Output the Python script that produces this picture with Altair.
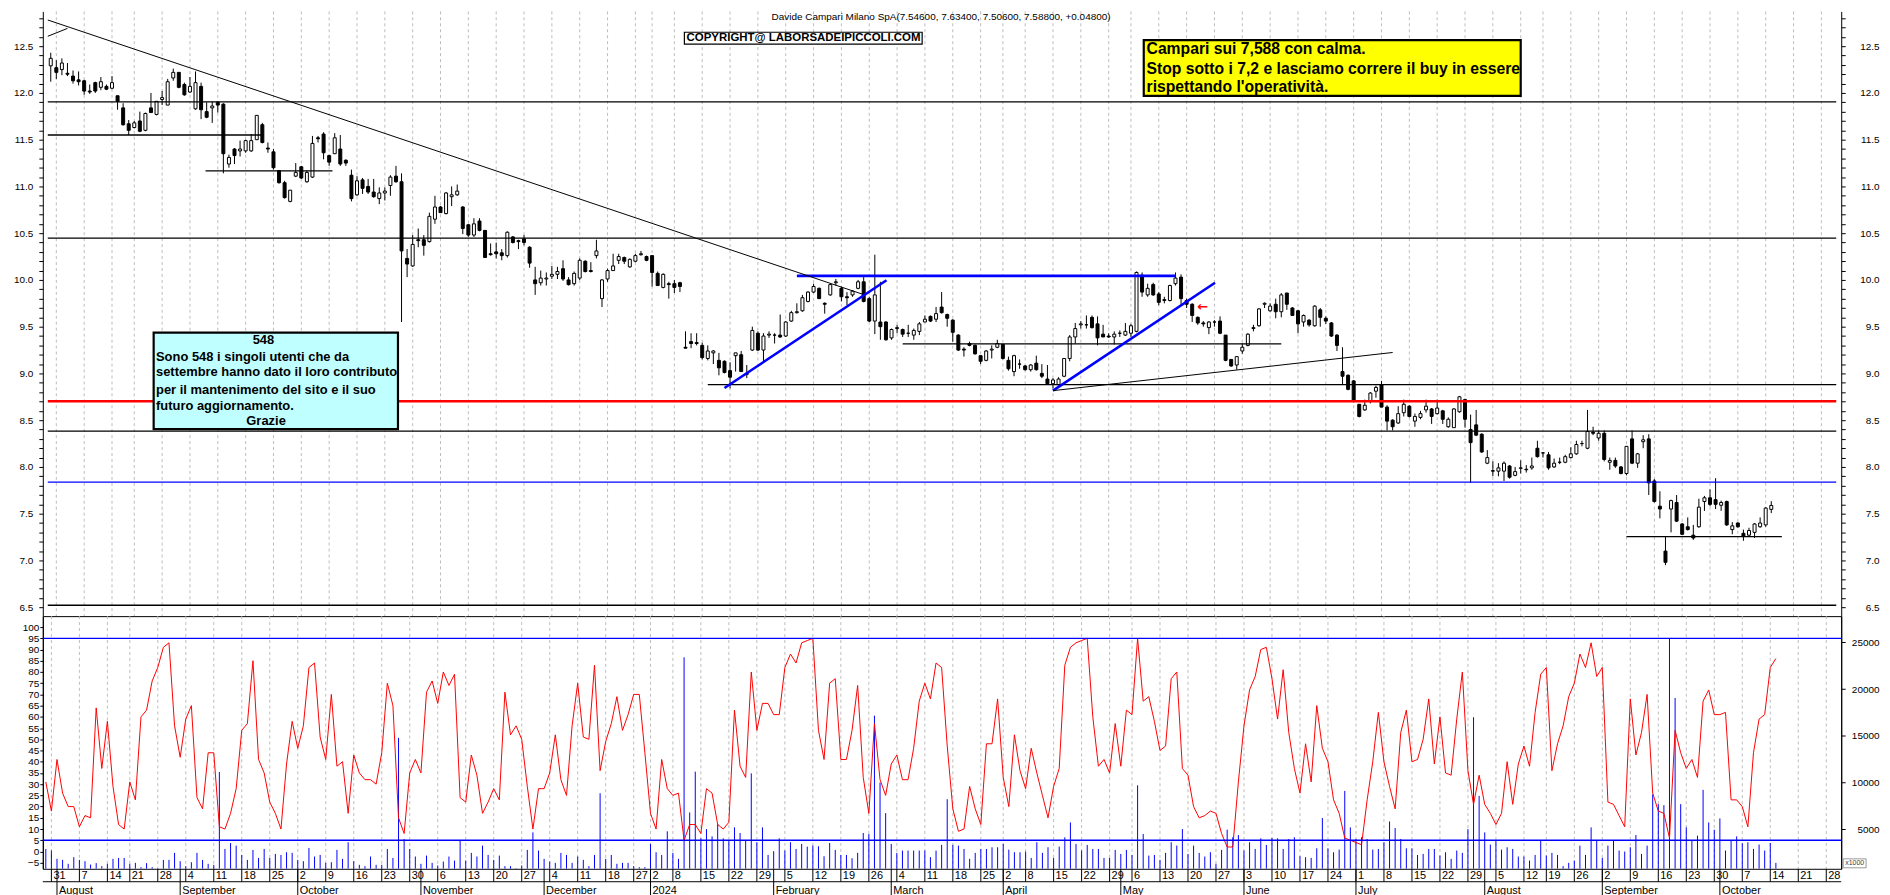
import altair as alt
import pandas as pd

# ---------------------------------------------------------------- data
OPEN = [12.29,12.27,12.25,12.21,12.18,12.14,12.13,12.02,12.11,12.06,12.07,12.05,11.97,11.84,11.67,11.63,11.70,11.60,11.84,11.77,
        11.93,11.87,12.16,12.22,12.09,12.01,11.83,12.07,11.80,11.84,11.90,11.88,11.24,11.40,11.38,11.38,11.38,11.50,11.66,11.41,
        11.37,11.17,11.04,10.84,11.11,11.21,11.05,11.10,11.52,11.56,11.33,11.35,11.40,11.28,11.12,10.91,11.07,11.00,10.94,10.87,
        10.93,11.01,11.11,11.05,10.23,10.15,10.43,10.43,10.41,10.65,10.78,10.71,10.89,10.91,10.78,10.59,10.48,10.63,10.53,10.28,
        10.30,10.29,10.26,10.46,10.42,10.44,10.35,10.00,9.97,10.01,10.04,10.06,10.12,10.00,9.96,10.02,10.20,10.10,10.26,9.80,
        10.01,10.10,10.21,10.24,10.14,10.20,10.27,10.25,10.26,10.07,9.92,9.96,9.96,9.97,9.28,9.34,9.33,9.30,9.16,9.22,
        9.14,9.13,9.03,9.19,9.20,9.00,9.25,9.43,9.25,9.41,9.41,9.41,9.40,9.56,9.65,9.67,9.77,9.87,9.91,9.75,
        9.84,9.97,9.91,9.82,9.84,9.91,9.98,9.80,9.56,9.55,9.55,9.38,9.48,9.47,9.43,9.41,9.45,9.55,9.61,9.58,
        9.71,9.63,9.57,9.41,9.26,9.32,9.30,9.19,9.14,9.25,9.28,9.31,9.14,9.02,9.10,9.08,9.04,9.11,9.00,8.94,
        8.89,8.88,8.97,9.16,9.39,9.52,9.52,9.60,9.53,9.42,9.40,9.39,9.43,9.41,9.43,9.45,10.05,9.84,9.95,9.85,
        9.78,9.78,9.96,10.03,9.78,9.74,9.60,9.54,9.49,9.55,9.56,9.41,9.15,9.09,9.24,9.30,9.48,9.51,9.74,9.67,
        9.74,9.66,9.86,9.70,9.67,9.55,9.57,9.51,9.68,9.59,9.54,9.41,9.02,8.98,8.92,8.67,8.61,8.70,8.81,8.88,
        8.64,8.50,8.47,8.58,8.65,8.49,8.53,8.61,8.62,8.57,8.60,8.43,8.42,8.59,8.72,8.40,8.45,8.35,8.04,7.96,
        7.955,7.955,8.01,7.91,7.985,7.975,7.99,8.20,8.15,8.13,8.00,8.05,8.05,8.10,8.14,8.25,8.20,8.37,8.31,8.36,
        8.05,8.07,8.00,7.93,8.30,8.04,8.27,8.30,7.85,7.58,7.10,7.55,7.62,7.39,7.36,7.27,7.36,7.63,7.67,7.65,
        7.59,7.63,7.33,7.40,7.29,7.27,7.30,7.36,7.38,7.546]
HIGH = [12.43,12.35,12.37,12.32,12.24,12.23,12.14,12.09,12.12,12.17,12.09,12.18,11.97,11.89,11.71,11.70,11.80,11.79,12.00,11.91,
        12.02,12.15,12.26,12.22,12.11,12.17,12.23,12.11,11.90,11.91,11.91,11.89,11.34,11.41,11.49,11.50,11.56,11.76,11.68,11.47,
        11.40,11.17,11.06,10.96,11.25,11.22,11.17,11.54,11.54,11.58,11.34,11.57,11.55,11.29,11.18,11.11,11.09,11.08,11.08,10.99,
        10.99,11.12,11.22,11.14,10.33,10.48,10.55,10.48,10.72,10.90,10.79,10.94,11.00,11.02,10.79,10.60,10.66,10.66,10.53,10.39,
        10.40,10.33,10.52,10.47,10.43,10.48,10.36,10.14,10.10,10.08,10.15,10.14,10.21,10.03,10.09,10.23,10.21,10.19,10.43,10.01,
        10.12,10.28,10.28,10.25,10.23,10.28,10.31,10.26,10.26,10.09,10.07,9.98,10.00,9.98,9.45,9.43,9.43,9.33,9.30,9.25,
        9.22,9.14,9.12,9.22,9.24,9.09,9.50,9.45,9.43,9.45,9.43,9.63,9.56,9.67,9.75,9.84,9.88,9.96,9.92,9.76,
        9.96,10.01,9.93,9.87,9.89,10.00,10.05,9.82,10.27,9.98,9.56,9.48,9.52,9.48,9.52,9.48,9.55,9.62,9.62,9.71,
        9.87,9.64,9.58,9.42,9.28,9.34,9.31,9.19,9.25,9.30,9.36,9.31,9.18,9.20,9.15,9.09,9.10,9.19,9.10,9.09,
        8.95,8.96,9.16,9.41,9.54,9.56,9.62,9.62,9.61,9.52,9.43,9.45,9.46,9.54,9.53,10.09,10.08,9.96,9.97,9.87,
        9.82,9.95,10.08,10.06,9.80,9.75,9.61,9.56,9.56,9.57,9.61,9.41,9.15,9.18,9.32,9.43,9.52,9.70,9.76,9.75,
        9.80,9.86,9.86,9.71,9.68,9.63,9.58,9.73,9.70,9.61,9.55,9.42,9.28,8.99,8.93,8.67,8.72,8.80,8.87,8.92,
        8.66,8.51,8.65,8.72,8.66,8.57,8.60,8.72,8.63,8.72,8.61,8.53,8.63,8.76,8.73,8.56,8.61,8.36,8.18,8.06,
        8.04,8.06,8.02,8.00,8.07,8.02,8.10,8.28,8.16,8.16,8.09,8.10,8.13,8.21,8.28,8.28,8.61,8.43,8.39,8.39,
        8.10,8.10,8.01,8.22,8.39,8.15,8.34,8.35,7.87,7.74,7.26,7.65,7.70,7.40,7.46,7.38,7.66,7.69,7.76,7.88,
        7.64,7.64,7.41,7.41,7.33,7.35,7.40,7.46,7.57,7.634]
LOW = [12.12,12.15,12.19,12.18,12.10,12.08,11.98,11.99,12.00,12.03,12.03,12.04,11.82,11.65,11.55,11.62,11.58,11.59,11.79,11.76,
       11.87,11.87,12.13,12.05,11.97,12.00,11.82,11.72,11.73,11.68,11.79,11.14,11.20,11.24,11.32,11.36,11.37,11.50,11.46,11.36,
       11.18,11.03,10.87,10.83,11.10,11.08,11.04,11.09,11.47,11.29,11.22,11.35,11.22,11.22,10.84,10.90,10.92,10.92,10.88,10.81,
       10.85,10.90,11.04,9.55,10.03,10.14,10.35,10.26,10.40,10.60,10.72,10.70,10.79,10.90,10.49,10.46,10.46,10.52,10.24,10.26,
       10.23,10.21,10.24,10.39,10.33,10.37,10.13,9.84,9.94,9.94,10.01,10.01,9.99,9.94,9.94,10.00,10.08,10.08,10.23,9.71,
       9.98,10.10,10.17,10.17,10.13,10.19,10.26,10.20,9.93,9.94,9.91,9.80,9.86,9.87,9.27,9.27,9.30,9.15,9.14,9.10,
       8.98,9.00,8.84,9.02,9.02,8.95,9.24,9.24,9.13,9.38,9.32,9.38,9.39,9.55,9.64,9.66,9.76,9.86,9.80,9.64,
       9.83,9.94,9.77,9.73,9.82,9.90,9.76,9.55,9.42,9.36,9.35,9.36,9.43,9.39,9.39,9.36,9.41,9.55,9.55,9.55,
       9.64,9.50,9.34,9.24,9.18,9.29,9.20,9.10,9.13,9.16,9.27,9.15,9.03,8.97,9.05,9.03,9.02,9.03,8.95,8.88,
       8.84,8.87,8.96,9.13,9.32,9.48,9.48,9.48,9.30,9.39,9.38,9.31,9.39,9.40,9.39,9.44,9.82,9.82,9.83,9.73,
       9.75,9.77,9.94,9.73,9.70,9.55,9.52,9.50,9.42,9.50,9.42,9.13,9.07,9.04,9.21,9.29,9.45,9.50,9.70,9.66,
       9.59,9.60,9.68,9.62,9.43,9.50,9.50,9.50,9.50,9.53,9.39,9.24,8.88,8.82,8.69,8.53,8.60,8.68,8.74,8.64,
       8.39,8.39,8.46,8.54,8.53,8.43,8.51,8.58,8.46,8.56,8.46,8.42,8.42,8.58,8.42,7.83,8.33,8.15,8.03,7.90,
       7.90,7.85,7.875,7.90,7.93,7.94,7.97,8.10,8.10,7.97,7.99,8.03,8.04,8.09,8.13,8.22,8.19,8.34,8.28,8.06,
       7.97,7.99,7.92,7.91,8.03,7.99,8.20,7.70,7.62,7.45,6.95,7.30,7.41,7.27,7.32,7.22,7.35,7.53,7.58,7.55,
       7.53,7.37,7.28,7.35,7.21,7.25,7.24,7.35,7.36,7.506]
CLOSE = [12.37,12.22,12.32,12.20,12.13,12.12,12.02,12.01,12.02,12.12,12.04,12.11,11.91,11.66,11.60,11.68,11.59,11.78,11.79,11.91,
         11.95,12.12,12.22,12.06,11.98,12.07,12.11,11.82,11.74,11.86,11.87,11.35,11.31,11.33,11.40,11.49,11.49,11.76,11.47,11.40,
         11.20,11.04,10.88,10.96,11.15,11.09,11.15,11.46,11.51,11.36,11.26,11.52,11.24,11.25,10.87,11.06,10.98,10.94,10.89,10.93,
         10.95,11.10,11.05,10.31,10.17,10.38,10.42,10.37,10.68,10.78,10.72,10.93,10.91,10.95,10.55,10.48,10.60,10.53,10.24,10.27,
         10.28,10.26,10.51,10.40,10.41,10.40,10.18,9.96,10.02,10.02,10.06,10.09,10.01,9.95,10.07,10.21,10.09,10.09,10.31,10.00,
         10.10,10.15,10.25,10.20,10.22,10.26,10.28,10.21,10.08,9.94,10.06,9.95,9.92,9.93,9.27,9.32,9.32,9.17,9.24,9.24,
         9.06,9.01,8.96,9.22,9.02,8.99,9.46,9.25,9.40,9.42,9.41,9.39,9.55,9.65,9.66,9.81,9.87,9.93,9.80,9.74,
         9.95,9.98,9.82,9.81,9.88,9.98,9.77,9.56,9.84,9.50,9.36,9.47,9.49,9.42,9.43,9.46,9.53,9.58,9.56,9.64,
         9.65,9.59,9.44,9.25,9.25,9.30,9.21,9.13,9.24,9.26,9.32,9.16,9.05,9.19,9.10,9.04,9.09,9.04,8.97,8.89,
         8.93,8.94,9.16,9.39,9.48,9.53,9.52,9.49,9.38,9.39,9.39,9.42,9.43,9.45,9.51,10.08,9.87,9.91,9.84,9.76,
         9.79,9.94,10.02,9.80,9.74,9.62,9.54,9.53,9.55,9.55,9.43,9.14,9.08,9.18,9.28,9.42,9.49,9.69,9.75,9.72,
         9.66,9.84,9.74,9.62,9.53,9.62,9.52,9.72,9.60,9.56,9.40,9.30,8.97,8.83,8.70,8.54,8.66,8.79,8.85,8.64,
         8.49,8.43,8.57,8.67,8.54,8.54,8.57,8.65,8.54,8.63,8.51,8.51,8.62,8.75,8.51,8.26,8.34,8.16,8.10,7.955,
         7.99,8.04,7.89,7.95,7.99,7.97,8.01,8.11,8.15,7.99,8.04,8.05,8.11,8.14,8.24,8.25,8.38,8.36,8.36,8.08,
         8.07,8.01,7.93,8.22,8.04,8.14,8.29,7.83,7.63,7.55,6.98,7.64,7.42,7.28,7.33,7.24,7.57,7.67,7.60,7.60,
         7.62,7.38,7.37,7.36,7.26,7.32,7.39,7.40,7.56,7.588]
STOCH = [31,18,41,26,20,20,11,16,15,64,37,58,29,12,10,31,23,60,63,76,82,91,93,56,42,59,65,24,19,44,
         44,11,10,17,28,54,57,85,41,35,22,17,10,39,58,46,56,82,84,51,41,70,38,40,17,43,35,32,32,30,
         44,75,65,15,8,35,41,35,71,76,66,80,74,79,24,22,43,34,17,22,28,23,71,52,56,50,29,10,28,28,
         35,52,32,25,56,75,51,50,83,36,49,57,69,54,61,70,70,44,17,10,41,28,25,26,5,12,12,8,28,26,
         12,10,13,63,38,33,80,54,66,66,61,61,82,88,84,93,94,95,54,41,75,77,41,41,54,74,33,17,57,32,
         25,39,43,32,32,46,67,75,68,84,82,47,19,9,10,29,19,12,48,48,68,33,20,52,36,28,46,35,25,15,
         29,37,83,91,93,94,95,60,38,41,35,57,38,63,61,95,67,69,58,45,47,77,80,37,34,20,15,16,18,17,
         8,2,2,31,56,72,78,90,91,77,59,81,53,37,26,48,31,65,46,40,23,17,6,5,4,3,23,40,62,40,
         29,19,53,63,40,41,50,68,39,60,35,34,59,80,36,21,34,21,17,12,17,40,21,39,47,38,62,79,82,36,
         48,56,69,75,88,82,93,78,82,22,21,16,11,68,43,53,70,26,18,17,6,54,44,37,41,33,67,72,61,61,
         62,23,23,20,11,44,59,61,82,86]
VOLUME = [2870,2700,1810,1700,1280,1990,1700,1560,1200,1350,1030,1280,1810,1910,1910,1280,1380,920,1350,920,
          800,1700,1700,2450,1560,1030,1450,2450,1700,1280,1170,11110,2870,3510,3230,2230,1700,2770,1910,2870,
          1910,2340,2230,2520,2450,1700,1560,2980,2060,2230,1380,1450,2770,1810,3590,1560,1170,1030,2060,1170,
          1170,2870,1910,14770,3940,2870,2060,1280,2160,1380,1100,1520,2060,1630,3760,1630,2450,2060,3230,2230,
          1700,2160,1030,1030,800,1100,2770,4650,2700,1810,1520,1380,2450,2230,1380,2060,1700,1030,2230,8840,
          1810,2230,1280,1380,1380,1030,920,920,3410,2520,2230,4760,2450,1810,23400,6780,11150,4010,5000,4220,
          5540,4010,3760,5180,4580,3760,10970,3590,5180,2230,2630,4010,2700,3590,2870,3410,3120,3230,3160,2090,
          3510,2770,2230,2230,1880,2450,4580,4470,17150,9980,6710,3410,2450,2700,2700,2700,2700,2700,1990,2700,
          3300,8200,3300,3230,2870,1810,2450,2870,2870,3050,3050,3410,2800,2520,2520,2590,1910,3590,2450,3050,
          1910,3120,4120,5710,3410,2700,3300,2870,2870,1910,1910,2770,2340,2770,2230,9690,4470,2160,2230,1700,
          2450,3590,3230,5000,2340,3230,2450,2060,2520,1280,2770,4930,4120,4360,2700,3590,2870,4010,3300,4050,
          4010,2870,3940,4120,2090,1990,1910,2940,6180,2940,2520,2800,9090,5180,3940,4120,3940,2800,2870,3590,
          5820,5110,3940,2940,2940,2230,2340,2870,2870,2160,2520,1810,2700,2450,5000,16980,8560,4650,3340,3760,
          2800,3050,2870,2060,2060,1630,2230,3760,2160,2450,2230,1030,1380,1630,3230,2230,5180,3760,1910,3230,
          3760,2700,2590,3050,4360,2340,3230,8730,7670,7560,25430,19040,7670,5180,3760,4290,9200,5710,4930,6140,
          2700,3760,4220,3480,3590,2870,3340,2700,3510,1380]

FIRST_SESSION = "2023-07-28"
HOLIDAYS = ["2023-08-15", "2023-12-25", "2023-12-26", "2024-01-01",
            "2024-03-29", "2024-04-01", "2024-05-01", "2024-08-15"]
MONTH_LABELS = {1: "2024", 2: "February", 3: "March", 4: "April", 5: "May", 6: "June",
                7: "July", 8: "August", 9: "September", 10: "October", 11: "November", 12: "December"}
STOCH_LEVELS = [95, 5]
PRICE_TICKS = [round(6.5 + 0.1 * k, 1) for k in range(64)]
STOCH_TICKS = list(range(-5, 101, 5))
VOLUME_TICKS = [5000, 10000, 15000, 20000, 25000]

TITLE = "Davide Campari Milano SpA(7.54600, 7.63400, 7.50600, 7.58800, +0.04800)"
COPYRIGHT = "COPYRIGHT@ LABORSADEIPICCOLI.COM"
YELLOW_LINES = ["Campari sui 7,588 con calma.",
                "Stop sotto i 7,2 e lasciamo correre il buy in essere",
                "rispettando l'operatività."]
CYAN_LINES = ["Sono 548 i singoli utenti che da",
              "settembre hanno dato il loro contributo",
              "per il mantenimento  del sito e il suo",
              "futuro aggiornamento."]
CYAN_HEAD = "548"
CYAN_FOOT = "Grazie"

# ---------------------------------------------------------------- layout / style
FONT = "Liberation Sans"
W, H1, H2 = 1808, 608, 254
X_MIN, X_MAX = -0.533, 320.67
X_SCALE = alt.Scale(domain=[X_MIN, X_MAX], nice=False, zero=False)
P_SCALE = alt.Scale(domain=[6.4043, 12.8723], nice=False, zero=False)
S_SCALE = alt.Scale(domain=[-7.72, 104.89], nice=False, zero=False)
V_SCALE = alt.Scale(domain=[746, 27810], nice=False, zero=False)
GRID_COLOR = "#bcbcbc"
BLUE, RED = "#0000ff", "#ff0000"

# drawn levels / trend lines (index, price)
LINES = [
    (X_MIN, X_MAX, 11.905, 11.905, "black", 1.3),
    (X_MIN, 38.2, 11.55, 11.55, "black", 1.3),
    (27.8, 50.6, 11.167, 11.167, "black", 1.3),
    (X_MIN, X_MAX, 10.447, 10.447, "black", 1.3),
    (134.0, 202.1, 10.043, 10.043, BLUE, 2.6),
    (153.0, 221.0, 9.316, 9.316, "black", 1.1),
    (118.0, X_MAX, 8.88, 8.88, "black", 1.1),
    (X_MIN, X_MAX, 8.702, 8.702, RED, 2.6),
    (X_MIN, X_MAX, 8.383, 8.383, "black", 1.3),
    (X_MIN, X_MAX, 7.837, 7.837, BLUE, 1.3),
    (283.0, 310.9, 7.255, 7.255, "black", 1.3),
    (X_MIN, X_MAX, 6.52, 6.52, "black", 1.5),
    (X_MIN, 145.97, 12.78, 9.844, "black", 1.0),
    (X_MIN, 3.0, 12.606, 12.69, "black", 1.0),
    (121.0, 150.1, 8.844, 9.997, BLUE, 2.6),
    (180.0, 209.1, 8.816, 9.97, BLUE, 2.6),
    (180.0, 241.0, 8.816, 9.224, "black", 1.0),
]
BOXES = [
    (113.8, 156.5, 12.649, 12.521, "white", "black", 1.2),
    (196.3, 264.0, 12.564, 11.968, "#ffff00", "black", 2.2),
    (18.48, 62.36, 9.436, 8.404, "#c0ffff", "black", 2.2),
]

# ---------------------------------------------------------------- frames
n = len(OPEN)
candles = pd.DataFrame({"i": range(n), "open": OPEN, "high": HIGH, "low": LOW,
                        "close": CLOSE, "stoch": STOCH, "vol": VOLUME})
candles["fill"] = ["white" if c >= o else "black" for o, c in zip(OPEN, CLOSE)]

sessions = [d for d in pd.bdate_range(FIRST_SESSION, "2024-11-29")
            if d.strftime("%Y-%m-%d") not in HOLIDAYS]
weeks, months, seen_w, seen_m = [], [], set(), set()
for k, d in enumerate(sessions):
    if k > X_MAX:
        break
    kw = tuple(d.isocalendar())[:2]
    if kw not in seen_w:
        seen_w.add(kw)
        if k > 0:
            weeks.append({"i": k, "label": str(d.day)})
    km = (d.year, d.month)
    if km not in seen_m:
        seen_m.add(km)
        if k > 0:
            months.append({"i": k, "label": MONTH_LABELS[d.month]})
weeks_df = pd.DataFrame(weeks)
months_df = pd.DataFrame(months)

lines_df = pd.DataFrame(LINES, columns=["x1", "x2", "y1", "y2", "color", "w"])
boxes_df = pd.DataFrame(BOXES, columns=["x1", "x2", "y1", "y2", "fill", "stroke", "sw"])


def X(field="i"):
    return alt.X(f"{field}:Q", scale=X_SCALE, axis=None)


def PY(field):
    return alt.Y(f"{field}:Q", scale=P_SCALE, axis=None)


def text_layer(rows, **kw):
    df = pd.DataFrame(rows, columns=["i", "p", "t"])
    return alt.Chart(df).mark_text(font=FONT, color="black", **kw).encode(
        x=X(), y=PY("p"), text="t:N")


LABEL_EXPR = "abs(datum.value*2 - round(datum.value*2)) < 0.001 ? format(datum.value, '.1f') : ''"
LEFT_PRICE_AXIS = alt.Axis(orient="left", values=PRICE_TICKS, title=None, grid=False,
                           labelExpr=LABEL_EXPR, tickSize=4, labelPadding=6, labelFontSize=10,
                           labelOverlap=False, minExtent=34, maxExtent=34)
RIGHT_PRICE_AXIS = alt.Axis(orient="right", values=PRICE_TICKS, title=None, grid=False,
                            labelExpr=LABEL_EXPR, tickSize=4, labelPadding=34, labelAlign="right",
                            labelFontSize=10, labelOverlap=False, minExtent=40, maxExtent=40)
STOCH_AXIS = alt.Axis(orient="left", values=STOCH_TICKS, title=None, grid=False, format="d",
                      tickSize=3, labelPadding=1, labelFontSize=10, labelOverlap=False,
                      minExtent=34, maxExtent=34)
VOLUME_AXIS = alt.Axis(orient="right", values=VOLUME_TICKS, title=None, grid=False, format="d",
                       tickSize=4, labelPadding=34, labelAlign="right", labelFontSize=10,
                       labelOverlap=False, minExtent=40, maxExtent=40)

# ---------------------------------------------------------------- top panel
grid_top = alt.Chart(weeks_df).mark_rule(color=GRID_COLOR, strokeDash=[3, 3], strokeWidth=1).encode(x=X())
wicks = alt.Chart(candles).mark_rule(color="black", strokeWidth=1).encode(
    x=X(), y=alt.Y("low:Q", scale=P_SCALE, axis=LEFT_PRICE_AXIS), y2="high:Q")
bodies = alt.Chart(candles).mark_bar(size=3, stroke="black", strokeWidth=1).encode(
    x=X(), y=PY("open"), y2="close:Q", fill=alt.Fill("fill:N", scale=None))
lines = alt.Chart(lines_df).mark_rule().encode(
    x=X("x1"), x2="x2:Q", y=alt.Y("y1:Q", scale=P_SCALE, axis=RIGHT_PRICE_AXIS), y2="y2:Q",
    color=alt.Color("color:N", scale=None), strokeWidth=alt.StrokeWidth("w:Q", scale=None))
boxes = alt.Chart(boxes_df).mark_rect().encode(
    x=X("x1"), x2="x2:Q", y=PY("y1"), y2="y2:Q",
    fill=alt.Fill("fill:N", scale=None), stroke=alt.Stroke("stroke:N", scale=None),
    strokeWidth=alt.StrokeWidth("sw:Q", scale=None))

title_txt = text_layer([(159.9, 12.815, TITLE)], fontSize=10, align="center")
copy_txt = text_layer([(135.2, 12.585, COPYRIGHT)], fontSize=11.5, fontWeight="bold", align="center")
yellow_txt = text_layer([(196.8, p, t) for p, t in zip([12.468, 12.255, 12.059], YELLOW_LINES)],
                        fontSize=15.8, fontWeight="bold", align="left")
cyan_txt = text_layer([(18.9, p, t) for p, t in zip([9.173, 9.011, 8.827, 8.656], CYAN_LINES)],
                      fontSize=13, fontWeight="bold", align="left")
cyan_hd = text_layer([(38.2, 9.362, CYAN_HEAD), (38.67, 8.489, CYAN_FOOT)],
                     fontSize=13, fontWeight="bold", align="center")
arrow = alt.Chart(pd.DataFrame({"i": [206.9], "p": [9.705], "t": ["←"]})).mark_text(
    font="DejaVu Sans", fontSize=13, fontWeight="bold", color=RED).encode(x=X(), y=PY("p"), text="t:N")

top = alt.layer(grid_top, wicks, bodies, lines, boxes, title_txt, copy_txt, yellow_txt,
                cyan_txt, cyan_hd, arrow).resolve_axis(y="independent").properties(
    width=W, height=H1, view=alt.ViewBackground(stroke="transparent"))

# ---------------------------------------------------------------- bottom panel
grid_bot = alt.Chart(weeks_df).mark_rule(color=GRID_COLOR, strokeDash=[3, 3], strokeWidth=1).encode(x=X())
vol = alt.Chart(candles).mark_rule(color=BLUE, strokeWidth=1, clip=True).encode(
    x=X(), y=alt.Y("vol:Q", scale=V_SCALE, axis=VOLUME_AXIS), y2=alt.value(H2))
stoch = alt.Chart(candles).mark_line(color=RED, strokeWidth=1).encode(
    x=X(), y=alt.Y("stoch:Q", scale=S_SCALE, axis=STOCH_AXIS))
levels = alt.Chart(pd.DataFrame({"lvl": STOCH_LEVELS})).mark_rule(color=BLUE, strokeWidth=1.3).encode(
    y=alt.Y("lvl:Q", scale=S_SCALE, axis=None))
week_ticks = alt.Chart(weeks_df).mark_rule(color="black", strokeWidth=1).encode(
    x=X(), y=alt.value(H2), y2=alt.value(H2 + 13))
month_ticks = alt.Chart(months_df).mark_rule(color="black", strokeWidth=1).encode(
    x=X(), y=alt.value(H2), y2=alt.value(H2 + 30))
row_line = alt.Chart(pd.DataFrame({"a": [0]})).mark_rule(color="black", strokeWidth=1).encode(
    x=alt.value(0), x2=alt.value(W), y=alt.value(H2 + 13))
day_lbl = alt.Chart(weeks_df).mark_text(align="left", dx=2, font=FONT, fontSize=11, color="black").encode(
    x=X(), y=alt.value(H2 + 7), text="label:N")
month_lbl = alt.Chart(months_df).mark_text(align="left", dx=2, font=FONT, fontSize=11, color="black").encode(
    x=X(), y=alt.value(H2 + 22), text="label:N")
x1000_box = alt.Chart(pd.DataFrame({"a": [0]})).mark_rect(fill="white", stroke="#808080", strokeWidth=0.8).encode(
    x=alt.value(W + 2), x2=alt.value(W + 25), y=alt.value(H2 - 10), y2=alt.value(H2 - 1))
x1000_txt = alt.Chart(pd.DataFrame({"t": ["x1000"]})).mark_text(
    font=FONT, fontSize=7, color="#404040", align="center").encode(
    x=alt.value(W + 13.5), y=alt.value(H2 - 5.5), text="t:N")

bottom = alt.layer(grid_bot, vol, stoch, levels, week_ticks, month_ticks, row_line, day_lbl,
                   month_lbl, x1000_box, x1000_txt).resolve_scale(y="independent").properties(
    width=W, height=H2, view=alt.ViewBackground(stroke="black", strokeWidth=1))

chart = alt.vconcat(top, bottom, spacing=0, bounds="flush").properties(
    padding={"left": 0, "top": 0, "right": 0, "bottom": 0}
).configure_axis(
    labelFont=FONT, labelColor="black", domainColor="black", tickColor="black", domainWidth=1
)

chart.save("out.html", embed_options={"renderer": "svg", "actions": False})
